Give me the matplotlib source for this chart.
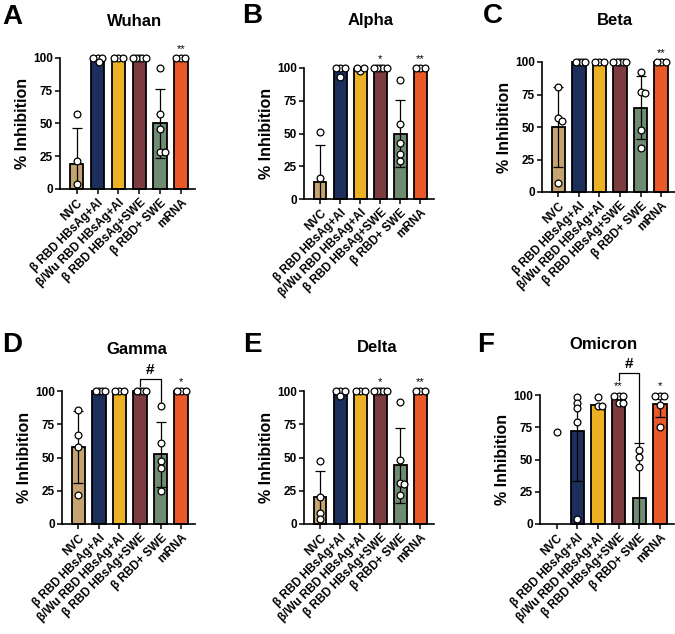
import matplotlib
matplotlib.use("Agg")
import matplotlib.pyplot as plt
import numpy as np

plt.rcParams['font.family'] = ['Liberation Sans', 'DejaVu Sans']
plt.rcParams['font.weight'] = 'bold'

groups = ["NVC", "β RBD HBsAg+Al", "β/Wu RBD HBsAg+Al", "β RBD HBsAg+SWE",
          "β RBD+ SWE", "mRNA"]
colors = ["#C4A472", "#1C2E5C", "#EDB224", "#7D3D40", "#6F8B72", "#E9592A"]

titles = ["Wuhan", "Alpha", "Beta", "Gamma", "Delta", "Omicron"]
letters = ["A", "B", "C", "D", "E", "F"]

# group means and SD for each variant (nan = no bar)
wuhan_mean = [19, 99, 100, 100, 50, 100]
wuhan_sd = [27.5, 0, 0, 0, 26.5, 0]
wuhan_pts = [[57, 21, 4], [100, 100, 100, 97], [100, 100, 100],
             [100, 100, 100, 100, 100], [92, 57, 46, 28, 28], [100, 100, 100]]

alpha_mean = [13, 98, 99, 100, 50, 100]
alpha_sd = [28, 0, 0, 0, 25.5, 0]
alpha_pts = [[51, 16], [100, 100, 100, 93], [98, 100, 100],
             [100, 100, 100, 100, 100], [91, 57, 43, 34, 29], [100, 100, 100]]

beta_mean = [50, 100, 100, 100, 65, 100]
beta_sd = [30.5, 0, 0, 0, 24, 0]
beta_pts = [[80.5, 57, 55, 7], [100, 100, 100, 100], [100, 100, 100],
            [100, 100, 100, 100, 100], [92, 77, 76, 48, 34], [100, 100, 100]]

gamma_mean = [58, 100, 100, 100, 52.5, 100]
gamma_sd = [27, 0, 0, 0, 24.5, 0]
gamma_pts = [[86, 67, 58, 22], [100, 100, 100, 100], [100, 100, 100],
             [100, 100, 100, 100], [89, 61, 47, 42, 25], [100, 100, 100]]

delta_mean = [20, 99, 100, 100, 44, 100]
delta_sd = [20, 0, 0, 0, 28.5, 0]
delta_pts = [[47.5, 20, 8, 4], [100, 100, 100, 96], [100, 100, 100],
             [100, 100, 100, 100, 100], [91.5, 48, 31, 30, 22], [100, 100, 100]]

omicron_mean = [np.nan, 72, 92, 97, 20, 93]
omicron_sd = [0, 39, 0, 0, 43, 10]
omicron_pts = [[71], [98.7, 93.5, 89.7, 78.8, 4], [98.7, 91.5, 91.5],
               [99, 99, 99, 94, 94], [57, 52, 44], [99, 99, 99, 92, 75.5]]

means = [wuhan_mean, alpha_mean, beta_mean, gamma_mean, delta_mean, omicron_mean]
sds = [wuhan_sd, alpha_sd, beta_sd, gamma_sd, delta_sd, omicron_sd]
points = [wuhan_pts, alpha_pts, beta_pts, gamma_pts, delta_pts, omicron_pts]

# significance stars: (group index, label)
stars = [[(5, "**")], [(3, "*"), (5, "**")], [(5, "**")],
         [(5, "*")], [(3, "*"), (5, "**")], [(3, "**"), (5, "*")]]
# "#" brackets: (left group, right group, top, left leg bottom, right leg bottom)
hashes = [None, None, None, (3, 4, 109, 104, 92), None, (3, 4, 117, 112, 63)]

W, H = 675, 634
# layout in pixels: left, right, bottom(0), top(100)
rects = [(60, 195, 189, 58), (304, 434, 199, 68), (542, 675, 192, 62),
         (62, 195, 524, 391), (304, 434, 524, 391), (540, 674, 524, 395)]
title_pos = [(135, 26), (371, 25), (615, 25), (137, 354), (377, 352), (603, 349)]
letter_pos = [(2, 24), (242, 23), (483, 23), (2, 352), (243, 352), (477, 352)]

XMIN, XMAX = -0.8, 5.68


def swarm(vals, ppx, ppy, d=4.2, maxw=6.5):
    placed = []
    offs = []
    cands = [0.0]
    for i in range(1, 40):
        cands += [i * 0.5, -i * 0.5]
    for v in vals:
        y = v * ppy
        for c in cands:
            if all((c - px) ** 2 + (y - py) ** 2 >= d * d for px, py in placed):
                break
        placed.append((c, y))
        offs.append(c)
    offs = np.array(offs)
    if len(offs) and np.abs(offs).max() > maxw:
        offs = offs * maxw / np.abs(offs).max()
    return offs / ppx


fig = plt.figure(figsize=(W / 100, H / 100), dpi=100)

for k in range(6):
    l, r, b, t = rects[k]
    ax = fig.add_axes([l / W, 1 - b / H, (r - l) / W, (b - t) / H])
    ppx = (r - l) / (XMAX - XMIN)
    ppy = (b - t) / 100.0
    x = np.arange(len(groups))
    for i in range(len(groups)):
        m = means[k][i]
        if not np.isnan(m):
            ax.bar(x[i], m, width=0.64, color=colors[i], edgecolor='black',
                   linewidth=1.3, zorder=2, clip_on=False)
            if sds[k][i] > 0:
                ax.errorbar(x[i], m, yerr=sds[k][i], fmt='none', ecolor='black',
                            elinewidth=0.9, capsize=3.5, capthick=0.9, zorder=3)
        vals = np.array(points[k][i], dtype=float)
        offs = swarm(vals, ppx, ppy)
        ax.scatter(x[i] + offs, vals, s=24, facecolor='white', edgecolor='black',
                   linewidth=0.9, zorder=4, clip_on=False)

    for gi, lab in stars[k]:
        ax.text(x[gi], 103, lab, ha='center', va='bottom', fontsize=8,
                fontweight='normal')
    if hashes[k] is not None:
        g1, g2, top, lb, rb = hashes[k]
        ax.plot([x[g1], x[g1], x[g2], x[g2]], [lb, top, top, rb], color='black',
                lw=0.9, clip_on=False, zorder=5)
        ax.text((x[g1] + x[g2]) / 2, top + 1.5, "#", ha='center', va='bottom',
                fontsize=11, fontweight='bold')

    ax.set_xlim(XMIN, XMAX)
    ax.set_ylim(0, 100)
    ax.set_yticks([0, 25, 50, 75, 100])
    ax.set_xticks(x)
    ax.set_xticklabels(groups, rotation=45, ha='right', rotation_mode='anchor',
                       fontsize=8.5, fontweight='bold')
    ax.tick_params(axis='y', labelsize=8.5, width=1.1, length=3.5, pad=1.5)
    ax.tick_params(axis='x', width=1.1, length=3.5, pad=2)
    for lab in ax.get_yticklabels():
        lab.set_fontweight('bold')
    ax.spines['top'].set_visible(False)
    ax.spines['right'].set_visible(False)
    ax.spines['left'].set_linewidth(1.2)
    ax.spines['bottom'].set_linewidth(1.2)
    ax.set_ylabel("% Inhibition", fontsize=11.5, fontweight='bold', labelpad=2)

    tx, ty = title_pos[k]
    fig.text(tx / W, 1 - ty / H, titles[k], ha='center', va='baseline',
             fontsize=12, fontweight='bold')
    lx, ly = letter_pos[k]
    fig.text(lx / W, 1 - ly / H, letters[k], ha='left', va='baseline',
             fontsize=20, fontweight='bold')

fig.savefig("out.png", dpi=100)
